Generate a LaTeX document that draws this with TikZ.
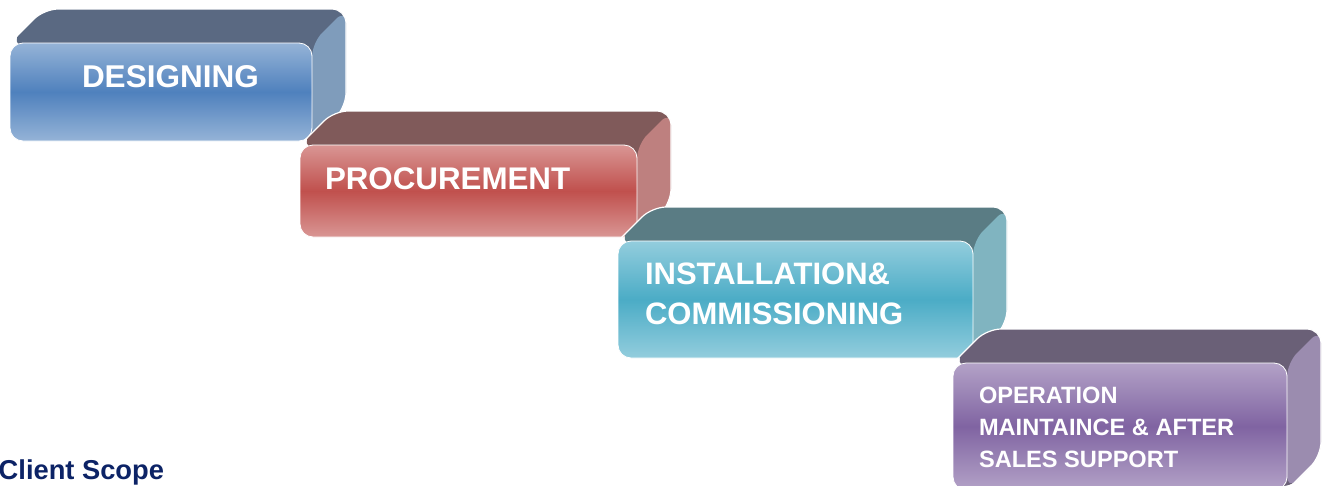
\documentclass[tikz,border=0pt]{standalone}
\usepackage{fontspec}
\setmainfont{Liberation Sans}
\definecolor{bTop}{HTML}{5A6982}
\definecolor{bRight}{HTML}{7F9CBB}
\definecolor{bLight}{HTML}{95B3D7}
\definecolor{bDark}{HTML}{4F81BD}
\definecolor{rTop}{HTML}{805A5A}
\definecolor{rRight}{HTML}{BE807F}
\definecolor{rLight}{HTML}{D99694}
\definecolor{rDark}{HTML}{C0504D}
\definecolor{cTop}{HTML}{5A7C84}
\definecolor{cRight}{HTML}{80B4C0}
\definecolor{cLight}{HTML}{93CDDD}
\definecolor{cDark}{HTML}{4BACC6}
\definecolor{pTop}{HTML}{6A6077}
\definecolor{pRight}{HTML}{9B8CAF}
\definecolor{pLight}{HTML}{B3A2C7}
\definecolor{pDark}{HTML}{8064A2}
\definecolor{navy}{HTML}{0C2366}
\newcommand\stepbox[9]{%
  \fill[#6, rounded corners=14pt] (#2,#3) -- ({#2+34},{#3-34}) -- ({#4+34},{#3-34}) -- ({#4+34},{#5-34}) -- (#4,#5) -- cycle;
  \fill[#7, rounded corners=14pt] (#4,#3) -- ({#4+34},{#3-34}) -- ({#4+34},{#5-34}) -- (#4,#5) -- cycle;
  \draw[white, line width=1.2pt, rounded corners=14pt] (#2,#3) -- ({#2+34},{#3-34}) -- ({#4+34},{#3-34}) -- ({#4+34},{#5-34}) -- (#4,#5);
  \node[frontface, top color=#8, bottom color=#8, middle color=#9,
        minimum width={(#4-#2)*1pt}, minimum height={(#5-#3)*1pt}]
        (#1) at ({(#2+#4)/2},{(#3+#5)/2}) {};%
}
\begin{document}
\begin{tikzpicture}[x=1pt,y=-1pt,
  frontface/.style={draw=white, line width=0.8pt, rounded corners=13pt, inner sep=0pt, outer sep=0pt},
  lbl/.style={text=white, inner sep=0pt, outer sep=0pt, align=left}]
\clip (0,0) rectangle (1327,485);
\fill[white] (0,0) rectangle (1327,485);
\stepbox{b1}{10}{43}{312}{141}{bTop}{bRight}{bLight}{bDark}
\stepbox{b2}{300}{145}{637}{237}{rTop}{rRight}{rLight}{rDark}
\stepbox{b3}{618}{241}{973}{358}{cTop}{cRight}{cLight}{cDark}
\stepbox{b4}{953}{363}{1287}{490}{pTop}{pRight}{pLight}{pDark}
\node[lbl, font=\bfseries\fontsize{31.5}{38}\selectfont, anchor=base west] (t1) at (82,87) {DESIGNING};
\node[lbl, font=\bfseries\fontsize{31.3}{38}\selectfont, anchor=base west] (t2) at (325,189) {PROCUREMENT};
\node[lbl, font=\bfseries\fontsize{31}{40}\selectfont, anchor=north west] (t3) at (645,263) {INSTALLATION\&\\COMMISSIONING};
\node[lbl, font=\bfseries\fontsize{23.6}{32}\selectfont, anchor=north west] (t4) at (979,387) {OPERATION\\MAINTAINCE \& AFTER\\SALES SUPPORT};
\node[text=navy, inner sep=0pt, font=\bfseries\fontsize{27.3}{32}\selectfont, anchor=base west] (cs) at (-1.5,479) {Client Scope};
\end{tikzpicture}
\end{document}
